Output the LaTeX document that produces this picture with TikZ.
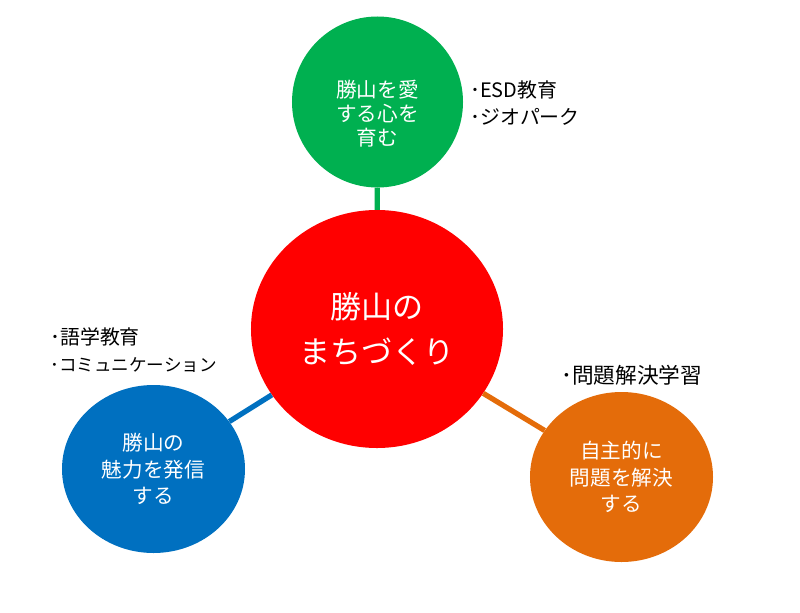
\documentclass[tikz,border=0pt]{standalone}
\usepackage{fontspec}
\setmainfont{Noto Sans CJK JP}
\usepackage{xcolor}
\usepackage{tikz}
\usetikzlibrary{
	shapes.geometric,
	positioning
}
\definecolor{machired}{HTML}{FF0000}
\definecolor{aigreen}{HTML}{00B050}
\definecolor{hasshinblue}{HTML}{0070C0}
\definecolor{jishuorange}{HTML}{E46C0A}

\begin{document}
\begin{tikzpicture}[x=0.03cm, y=-0.03cm,
		bubble/.style={ellipse, draw=none, inner sep=0pt, text=white, align=center,
			font=\fontsize{17.6}{22.5}\selectfont},
		bullets/.style={anchor=west, inner sep=0pt, align=left,
			font=\fontsize{17}{23}\selectfont},
		link/.style={line width=4.5pt}]
		\useasboundingbox (0,0) rectangle (800,613);
		\node[bubble, fill=machired, minimum width=7.56cm, minimum height=7.14cm,
			font=\fontsize{26.5}{38}\selectfont] (machi) at (377,329) {勝山の\\まちづくり};
		\node[bubble, fill=aigreen, minimum width=5.13cm, minimum height=5.13cm] (ai) at (377.5,102) {};
		\node[bubble, font=\fontsize{17.6}{20.5}\selectfont] (aitext) at (377.5,114) {勝山を愛\\する心を\\育む};
		\node[bubble, fill=hasshinblue, minimum width=5.49cm, minimum height=5.04cm] (hasshin) at (153.5,469) {勝山の\\魅力を発信\\する};
		\node[bubble, fill=jishuorange, minimum width=5.49cm, minimum height=5.10cm] (jishu) at (621.5,477) {自主的に\\問題を解決\\する};
		% 線は楕円の縁で止まる
		\draw[link, aigreen] (machi) -- (ai);
		\draw[link, hasshinblue] (machi) -- (hasshin);
		\draw[link, jishuorange] (machi) -- (jishu);
		\node[bullets] (aibullets) at (470,103.5) {･ESD教育\\･ジオパーク};
		\node[bullets] (hasshinbullets) at (50,350) {･語学教育\\{\fontsize{15}{23}\selectfont ･コミュニケーション}};
		\node[bullets, font=\fontsize{18.5}{23}\selectfont] (jishubullets) at (561,375) {･問題解決学習};
	\end{tikzpicture}
\end{document}
